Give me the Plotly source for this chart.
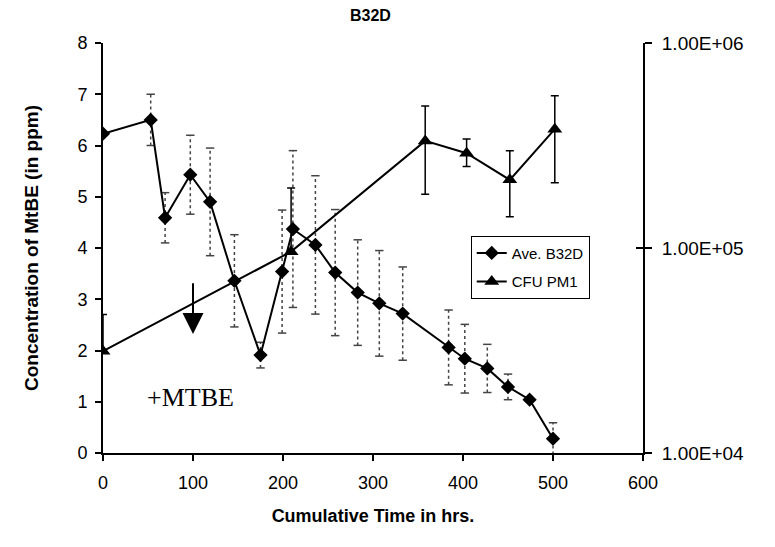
import plotly.graph_objects as go

# ---- data ----
time_b32d = [0, 53, 69, 97, 119, 146, 175, 199, 211, 236, 258, 283, 307, 333, 384, 402, 427, 450, 474, 500]
conc_b32d = [6.23, 6.50, 4.59, 5.43, 4.90, 3.36, 1.91, 3.54, 4.37, 4.06, 3.52, 3.13, 2.92, 2.72, 2.06, 1.84, 1.65, 1.29, 1.04, 0.28]
err_b32d = [0, 0.50, 0.49, 0.77, 1.05, 0.90, 0.25, 1.20, 1.53, 1.35, 1.23, 1.03, 1.03, 0.91, 0.73, 0.67, 0.47, 0.25, 0, 0.31]

time_cfu = [0, 209, 358, 404, 452, 502]
cfu_pm1 = [3.14e4, 9.6e4, 3.33e5, 2.90e5, 2.15e5, 3.80e5]
cfu_err_plus = [1.6e4, 1.0e5, 1.6e5, 0.5e5, 0.83e5, 1.73e5]
cfu_err_minus = [0, 0, 1.5e5, 0.4e5, 0.73e5, 1.72e5]

x_ticks = [0, 100, 200, 300, 400, 500, 600]
y_ticks = [0, 1, 2, 3, 4, 5, 6, 7, 8]
y2_ticks = [1e4, 1e5, 1e6]
y2_labels = ["1.00E+04", "1.00E+05", "1.00E+06"]

arrow_x = 100
arrow_from = 3.34
arrow_to = 2.32

FONT = "Liberation Sans, Arial, sans-serif"

# build dotted error-bar segments from data
ex, ey, cx, cy = [], [], [], []
for t, c, e in zip(time_b32d, conc_b32d, err_b32d):
    if e > 0:
        ex += [t, t, None]
        ey += [c - e, c + e, None]
        cx += [t, t]
        cy += [c - e, c + e]

fig = go.Figure()

fig.add_trace(go.Scatter(x=ex, y=ey, mode="lines", showlegend=False, hoverinfo="skip",
                         line=dict(color="#444444", width=1.5, dash="dot")))
fig.add_trace(go.Scatter(x=cx, y=cy, mode="markers", showlegend=False, hoverinfo="skip",
                         marker=dict(symbol="line-ew", size=6, line=dict(color="#444444", width=1.5))))

fig.add_trace(go.Scatter(x=time_b32d, y=conc_b32d, mode="lines+markers", name="Ave. B32D",
                         legendgroup="a",
                         line=dict(color="black", width=2),
                         marker=dict(symbol="diamond", size=11, color="black")))

fig.add_trace(go.Scatter(x=time_cfu, y=cfu_pm1, mode="lines+markers", name="CFU PM1",
                         legendgroup="b", yaxis="y2",
                         line=dict(color="black", width=2),
                         marker=dict(symbol="triangle-up", size=13, color="black"),
                         error_y=dict(type="data", array=cfu_err_plus, arrayminus=cfu_err_minus,
                                      color="black", thickness=1.5, width=4)))

# invisible trace to carry the inner tick marks of the right axis
fig.add_trace(go.Scatter(x=[time_cfu[0]], y=[cfu_pm1[0]], yaxis="y3", mode="markers",
                         marker=dict(opacity=0), showlegend=False, hoverinfo="skip"))

fig.add_annotation(x=arrow_x, y=arrow_to, ax=arrow_x, ay=arrow_from, xref="x", yref="y",
                   axref="x", ayref="y", text="", showarrow=True,
                   arrowhead=2, arrowsize=2.1, arrowwidth=2, arrowcolor="black")

fig.add_annotation(x=0.078, y=0.135, xref="paper", yref="paper", text="+MTBE", showarrow=False,
                   xanchor="left", yanchor="middle",
                   font=dict(family="Liberation Serif, Times New Roman, serif", size=26, color="black"))

fig.update_layout(
    width=775, height=547,
    margin=dict(l=103, r=132, t=43, b=94),
    paper_bgcolor="white", plot_bgcolor="white",
    title=dict(text="<b>B32D</b>", x=0.478, xanchor="center", y=0.972, yanchor="middle",
               font=dict(family=FONT, size=16, color="black")),
    font=dict(family=FONT, size=17, color="black"),
    xaxis=dict(range=[0, 600], tickvals=x_ticks, showgrid=False, zeroline=False,
               showline=True, linecolor="black", linewidth=2, ticks="outside", ticklen=6,
               tickcolor="black", tickwidth=1.5, ticklabelstandoff=6,
               tickfont=dict(family=FONT, size=18),
               title=dict(text="<b>Cumulative Time in hrs.</b>", standoff=18,
                          font=dict(family=FONT, size=18))),
    yaxis=dict(range=[0, 8], tickvals=y_ticks, showgrid=False, zeroline=False,
               showline=True, linecolor="black", linewidth=2, ticks="outside", ticklen=6,
               tickcolor="black", tickwidth=1.5, ticklabelstandoff=4,
               tickfont=dict(family=FONT, size=18),
               title=dict(text="<b>Concentration of MtBE (in ppm)</b>", standoff=34,
                          font=dict(family=FONT, size=19))),
    yaxis2=dict(type="log", range=[4, 6], tickvals=y2_ticks, ticktext=y2_labels,
                overlaying="y", side="right", showgrid=False, zeroline=False,
                showline=True, linecolor="black", linewidth=2, ticks="outside", ticklen=7,
                tickcolor="black", tickwidth=1.5, ticklabelstandoff=6,
                tickfont=dict(family=FONT, size=19)),
    yaxis3=dict(type="log", range=[4, 6], tickvals=y2_ticks, showticklabels=False,
                overlaying="y", side="right", showgrid=False, zeroline=False,
                showline=False, ticks="inside", ticklen=7,
                tickcolor="black", tickwidth=1.5),
    legend=dict(x=0.681, y=0.53, xanchor="left", yanchor="top",
                bgcolor="white", bordercolor="black", borderwidth=1,
                font=dict(family=FONT, size=15, color="black"),
                tracegroupgap=6, itemwidth=30),
    showlegend=True,
)

fig.write_html("out.html")
